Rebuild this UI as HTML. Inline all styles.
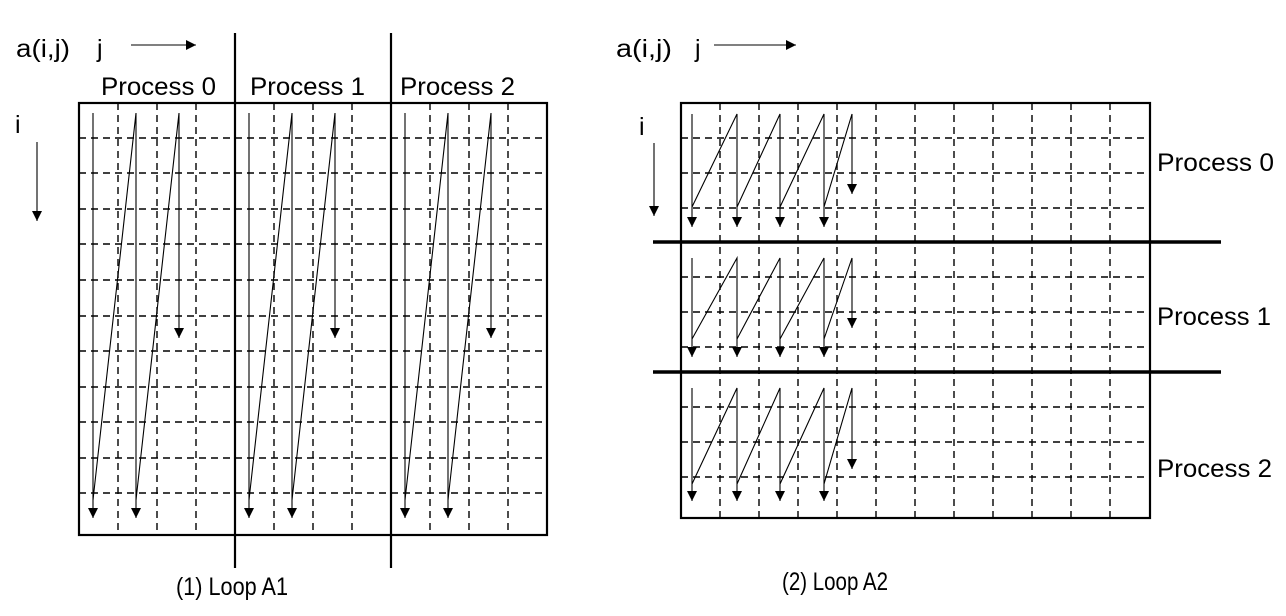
<!DOCTYPE html>
<html><head><meta charset="utf-8"><style>html,body{margin:0;padding:0;background:#fff}svg{display:block}</style></head><body>
<svg width="1286" height="616" viewBox="0 0 1286 616" xmlns="http://www.w3.org/2000/svg" font-family="Liberation Sans, sans-serif" fill="none" stroke="#000">
<defs><marker id="a" viewBox="0 0 10 10" refX="10" refY="5" markerWidth="10" markerHeight="10" markerUnits="userSpaceOnUse" orient="auto"><path d="M0,0L10,5L0,10z" fill="#000" stroke="none"/></marker></defs>
<g stroke-width="1.4" stroke-dasharray="7,5">
<path d="M118,103V535M157,103V535M196,103V535M274,103V535M313,103V535M352,103V535M430,103V535M469,103V535M508,103V535"/>
<path d="M79,138H547M79,173H547M79,209H547M79,244H547M79,280H547M79,316H547M79,351H547M79,387H547M79,422H547M79,458H547M79,493H547"/>
<path d="M720,103V518M759,103V518M798,103V518M837,103V518M876,103V518M915,103V518M954,103V518M993,103V518M1032,103V518M1071,103V518M1110,103V518"/>
<path d="M681,138H1150M681,173H1150M681,208H1150M681,277H1150M681,312H1150M681,347H1150M681,407H1150M681,442H1150M681,477H1150"/>
</g>
<g stroke-width="2.2">
<rect x="79" y="103" width="468" height="432"/>
<path d="M235,33V568M391,33V568"/>
<rect x="681" y="103" width="469" height="415"/>
<path d="M653,242H1221M653,372H1221" stroke-width="3.5"/>
</g>
<g stroke-width="1.1" marker-end="url(#a)">
<path d="M93,113V518"/><path d="M93,500L136,113V518"/><path d="M136,500L179,113V338"/>
<path d="M249,113V518"/><path d="M249,500L292,113V518"/><path d="M292,500L335,113V338"/>
<path d="M405,113V518"/><path d="M405,500L448,113V518"/><path d="M448,500L491,113V338"/>
<path d="M692,114V227"/><path d="M692,207L737,114V227"/><path d="M737,207L780,114V227"/><path d="M780,207L824,114V227"/><path d="M824,207L852,114V194"/>
<path d="M692,258V357"/><path d="M692,339L737,258V357"/><path d="M737,339L780,258V357"/><path d="M780,339L824,258V357"/><path d="M824,339L852,258V328"/>
<path d="M692,388V501"/><path d="M692,484L737,388V501"/><path d="M737,484L780,388V501"/><path d="M780,484L824,388V501"/><path d="M824,484L852,388V469"/>
<path d="M131,45H196"/><path d="M37,142V221"/>
<path d="M714,45H796"/><path d="M654,143V216"/>
</g>
<g fill="#000" stroke="none" font-size="25">
<text x="16" y="57" textLength="54" lengthAdjust="spacingAndGlyphs">a(i,j)</text>
<text x="97" y="57">j</text>
<text x="15" y="133">i</text>
<text x="101" y="95" textLength="115" lengthAdjust="spacingAndGlyphs">Process 0</text>
<text x="250" y="95" textLength="115" lengthAdjust="spacingAndGlyphs">Process 1</text>
<text x="400" y="95" textLength="115" lengthAdjust="spacingAndGlyphs">Process 2</text>
<text x="176" y="595" textLength="112" lengthAdjust="spacingAndGlyphs">(1) Loop A1</text>
<text x="616" y="57" textLength="56" lengthAdjust="spacingAndGlyphs">a(i,j)</text>
<text x="695" y="57">j</text>
<text x="639" y="135">i</text>
<text x="1157" y="171" textLength="117" lengthAdjust="spacingAndGlyphs">Process 0</text>
<text x="1157" y="325" textLength="114" lengthAdjust="spacingAndGlyphs">Process 1</text>
<text x="1157" y="477" textLength="115" lengthAdjust="spacingAndGlyphs">Process 2</text>
<text x="782" y="590" textLength="106" lengthAdjust="spacingAndGlyphs">(2) Loop A2</text>
</g>
</svg>
</body></html>
